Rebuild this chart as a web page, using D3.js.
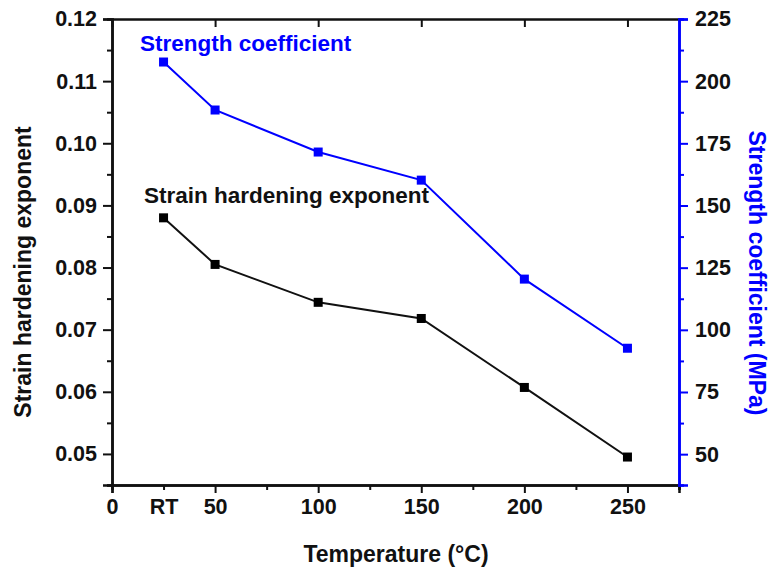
<!DOCTYPE html>
<html>
<head>
<meta charset="utf-8">
<script src="https://cdn.jsdelivr.net/npm/d3@7"></script>
<style>
body { margin: 0; background: #fff; }
text { font-family: "Liberation Sans", Arial, sans-serif; font-weight: bold; }
</style>
</head>
<body>
<div id="chart"></div>
<script>
// data
var temps = [25, 50, 100, 150, 200, 250];
var nValues = [0.0880, 0.0805, 0.0744, 0.0718, 0.0607, 0.0495];
var kValues = [207.7, 188.4, 171.5, 160.2, 120.4, 92.6];
var xTicks = [0, 25, 50, 100, 150, 200, 250];
var xTickLabels = ["0", "RT", "50", "100", "150", "200", "250"];
var leftTicks = [0.05, 0.06, 0.07, 0.08, 0.09, 0.10, 0.11, 0.12];
var rightTicks = [50, 75, 100, 125, 150, 175, 200, 225];

var W = 770, H = 567;
var margin = {top: 19, right: 91, bottom: 82, left: 112};
var width = W - margin.left - margin.right, height = H - margin.top - margin.bottom;
var blue = "#0000ff";

var svg = d3.select("#chart").append("svg").attr("width", W).attr("height", H)
var g = svg.append("g").attr("transform", `translate(${margin.left},${margin.top})`);

var x = d3.scaleLinear().domain([0, 275]).range([0, width]);
var yL = d3.scaleLinear().domain([0.045, 0.12]).range([height, 0]);
var yR = d3.scaleLinear().domain([37.6, 225]).range([height, 0]);

function styleAxis(sel, color) {
  sel.selectAll("path").attr("stroke", color).attr("stroke-width", 2.5);
  sel.selectAll("line").attr("stroke", color).attr("stroke-width", 2);
  sel.selectAll("text").attr("fill", "#111").style("font-size", "21.5px");
}

// bottom axis, minor ticks then major
g.append("g").attr("transform", `translate(0,${height})`)
  .call(d3.axisBottom(x).tickValues([25, 75, 125, 175, 225, 275]).tickSize(5).tickFormat(""))
  .call(s => styleAxis(s, "#111"));
var bx = g.append("g").attr("transform", `translate(0,${height})`)
  .call(d3.axisBottom(x).tickValues(xTicks).tickSize(8).tickPadding(6).tickFormat((d, i) => xTickLabels[i]))
  .call(s => styleAxis(s, "#111"));
bx.selectAll(".tick line").filter(d => d == 25).remove();

// top axis
g.append("g")
  .call(d3.axisTop(x).tickValues([0, 50, 100, 150, 200, 250]).tickSizeInner(-8).tickSizeOuter(0).tickFormat(""))
  .call(s => styleAxis(s, "#111"));

// left axis
g.append("g")
  .call(d3.axisLeft(yL).tickValues([0.045, 0.055, 0.065, 0.075, 0.085, 0.095, 0.105, 0.115]).tickSize(5).tickFormat(""))
  .call(s => styleAxis(s, "#111"));
g.append("g")
  .call(d3.axisLeft(yL).tickValues(leftTicks).tickSize(9).tickPadding(6).tickFormat(d3.format(".2f")))
  .call(s => styleAxis(s, "#111"));

// right axis
g.append("g").attr("transform", `translate(${width},0)`)
  .call(d3.axisRight(yR).tickValues([62.5, 87.5, 112.5, 137.5, 162.5, 187.5, 212.5]).tickSize(5).tickFormat(""))
  .call(s => styleAxis(s, blue));
g.append("g").attr("transform", `translate(${width},0)`)
  .call(d3.axisRight(yR).tickValues(rightTicks).tickSize(9).tickPadding(7))
  .call(s => styleAxis(s, blue));

// lines
var pts = temps.map((t, i) => ({t: t, n: nValues[i], k: kValues[i]}));
g.append("path").datum(pts).attr("fill", "none").attr("stroke", "#111").attr("stroke-width", 2)
  .attr("d", d3.line().x(d => x(d.t)).y(d => yL(d.n)));
g.append("path").datum(pts).attr("fill", "none").attr("stroke", blue).attr("stroke-width", 2)
  .attr("d", d3.line().x(d => x(d.t)).y(d => yR(d.k)));
g.selectAll(".nm").data(pts).join("rect").attr("fill", "#000")
  .attr("x", d => x(d.t) - 4.5).attr("y", d => yL(d.n) - 4.5).attr("width", 9).attr("height", 9);
g.selectAll(".km").data(pts).join("rect").attr("fill", blue)
  .attr("x", d => x(d.t) - 4.5).attr("y", d => yR(d.k) - 4.5).attr("width", 9).attr("height", 9);

// labels
svg.append("text").attr("x", 140).attr("y", 51).attr("fill", blue).style("font-size", "22.5px").text("Strength coefficient");
svg.append("text").attr("x", 144).attr("y", 203).attr("fill", "#111").style("font-size", "22.5px").text("Strain hardening exponent");

svg.append("text").attr("text-anchor", "middle").attr("x", 396).attr("y", 562).attr("fill", "#111")
  .style("font-size", "23px").text("Temperature (°C)");
svg.append("text").attr("text-anchor", "middle").attr("transform", "translate(31,272) rotate(-90)")
  .attr("fill", "#111").style("font-size", "23px").text("Strain hardening exponent");
svg.append("text").attr("text-anchor", "middle").attr("transform", "translate(749,273) rotate(90)")
  .attr("fill", blue).style("font-size", "23px").text("Strength coefficient (MPa)");
</script>
</body>
</html>
